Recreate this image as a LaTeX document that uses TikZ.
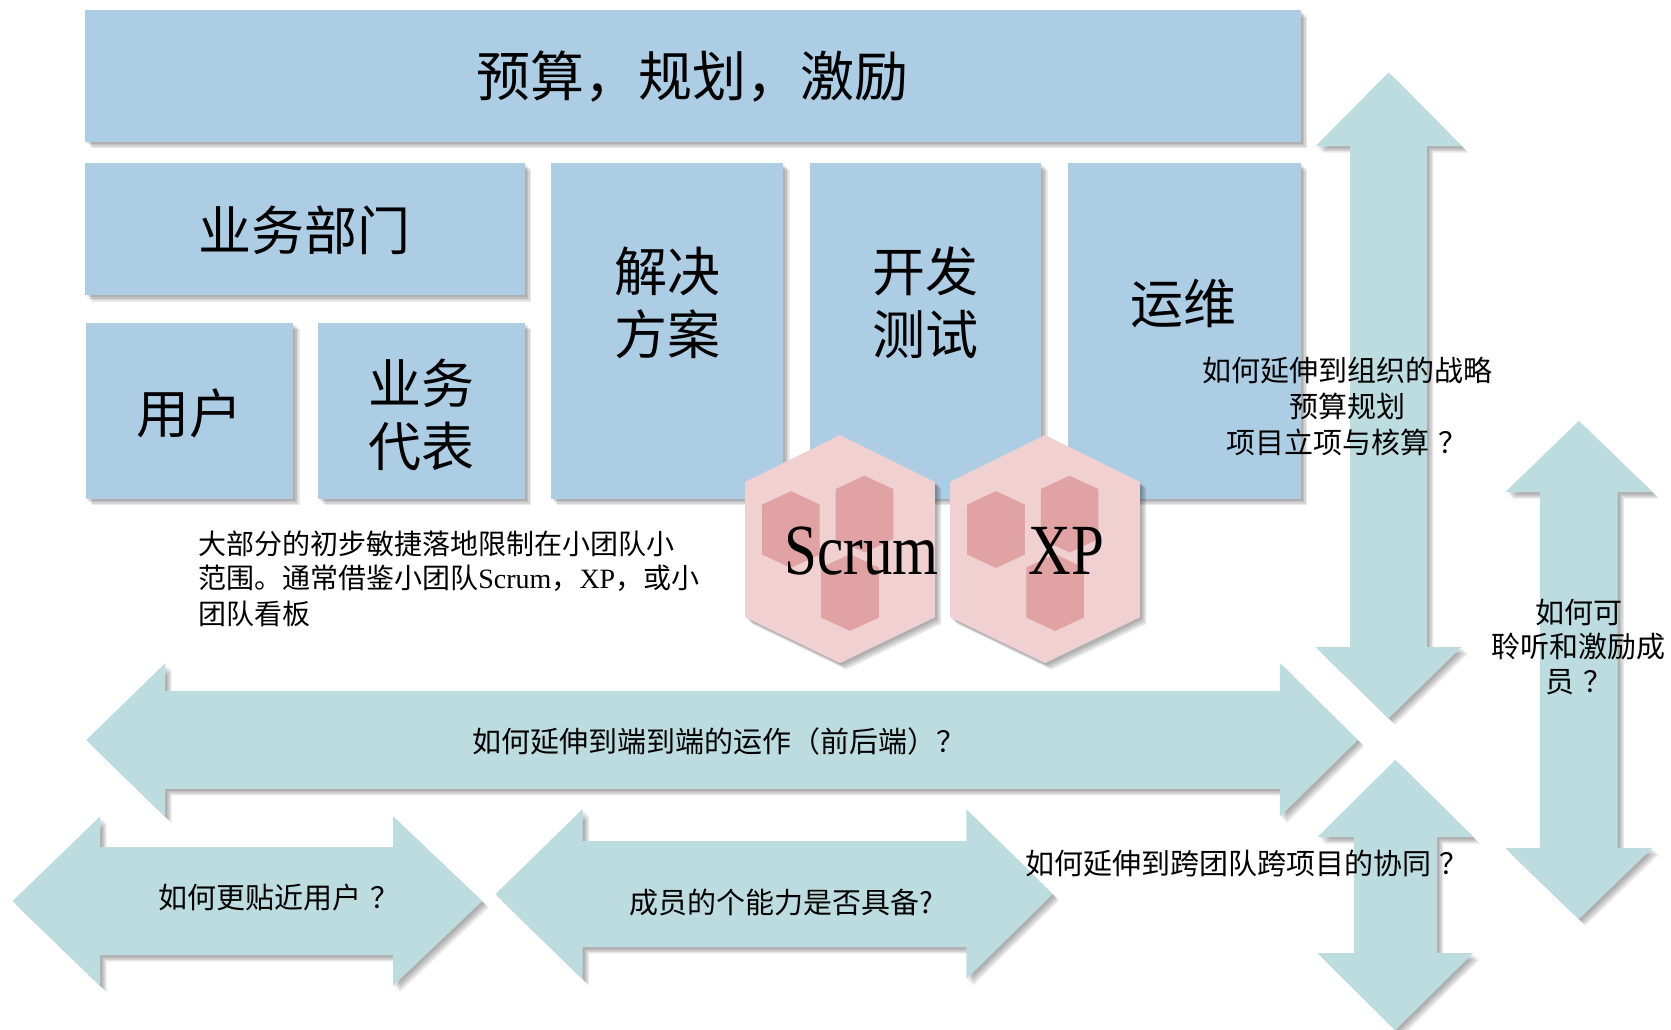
\documentclass[tikz,border=0pt]{standalone}
\usepackage{fontspec}
\usepackage{graphicx}
\setmainfont{Noto Sans CJK SC}
\newfontfamily\lat{Liberation Serif}
\newcommand\qmk{\kern0.3em？}
\definecolor{boxblue}{RGB}{173,205,229}
\definecolor{arrowteal}{RGB}{189,220,224}
\definecolor{hexpink}{RGB}{240,208,209}
\definecolor{hexdark}{RGB}{224,162,163}
\tikzset{
  shadowy/.style={
    preaction={fill=black,opacity=0.09,transform canvas={xshift=2pt,yshift=-2pt}},
    preaction={fill=black,opacity=0.09,transform canvas={xshift=3.5pt,yshift=-3.5pt}},
    preaction={fill=black,opacity=0.09,transform canvas={xshift=5pt,yshift=-5pt}},
    preaction={fill=black,opacity=0.09,transform canvas={xshift=6.5pt,yshift=-6.5pt}}},
  blockbox/.style={fill=boxblue,shadowy},
  arrowshape/.style={fill=arrowteal,shadowy},
  hexbig/.style={fill=hexpink,shadowy},
  hexsmall/.style={fill=hexdark},
  biglabel/.style={font=\fontsize{53}{63}\selectfont, align=center, inner sep=0pt},
  toplabel/.style={font=\fontsize{54}{64}\selectfont, inner sep=0pt},
  qlabel/.style={font=\fontsize{29}{36}\selectfont, align=center, inner sep=0pt},
  paralabel/.style={font=\fontsize{28}{35}\selectfont, anchor=west, inner sep=0pt},
  methodlabel/.style={font=\lat\fontsize{72}{80}\selectfont, anchor=base, inner sep=0pt},
  hexpic/.pic={
    \fill[hexbig] (0,-107) -- (89,-63) -- (89,64) -- (0,107) -- (-89,64) -- (-89,-63) -- cycle;
    \foreach \dx/\dy in {-46/-18.3, 23/-32.8, 9.4/40.8}
      \fill[hexsmall] (\dx,\dy) ++(0,-36) -- ++(27,12.5) -- ++(0,47) -- ++(-27,12.5) -- ++(-27,-12.5) -- ++(0,-47) -- cycle;
  }
}
\begin{document}
\begin{tikzpicture}[x=1.0657pt, y=-1.0657pt]
\useasboundingbox (0,0) rectangle (1568,966.5);

% blocks
\fill[blockbox] (80,9.5) rectangle (1220.5,133);
\node[toplabel] (budget) at (650,72) {预算，规划，激励};
\fill[blockbox] (80,153) rectangle (492.5,277);
\node[biglabel] (bizdept) at (286,216) {业务部门};
\fill[blockbox] (80.5,303) rectangle (275,468);
\node[biglabel] (user) at (177.5,388) {用户};
\fill[blockbox] (298.5,303) rectangle (492.5,468);
\node[biglabel] (bizrep) at (395.5,389) {业务\\代表};
\fill[blockbox] (517,153) rectangle (735,468);
\node[biglabel] (solution) at (626,284) {解决\\方案};
\fill[blockbox] (760,153) rectangle (977,468);
\node[biglabel] (devtest) at (868.5,284) {开发\\测试};
\fill[blockbox] (1002,153) rectangle (1220.5,468);
\node[biglabel] (ops) at (1111,285) {运维};

% hexagons
\pic (scrumhex) at (788.2,515.2) {hexpic};
\pic (xphex) at (980.6,515.2) {hexpic};
\node[methodlabel] (scrum) at (808.4,539.5) {\scalebox{0.82}[1]{Scrum}};
\node[methodlabel] (xp) at (1000.8,539.5) {\scalebox{0.82}[1]{XP}};

% arrows
\fill[arrowshape] (1303,68) -- (1371.5,137) -- (1339,137) -- (1339,607) -- (1371.5,607) -- (1303,674) -- (1234.5,607) -- (1267,607) -- (1267,137) -- (1234.5,137) -- cycle;
\fill[arrowshape] (1481.5,395) -- (1550.5,461.7) -- (1518,461.7) -- (1518,795.7) -- (1550.5,795.7) -- (1481.5,862.4) -- (1412.5,795.7) -- (1445,795.7) -- (1445,461.7) -- (1412.5,461.7) -- cycle;
\fill[arrowshape] (1309.3,713) -- (1382.3,785.4) -- (1348.3,785.4) -- (1348.3,894.3) -- (1382.3,894.3) -- (1309.3,966.5) -- (1236.3,894.3) -- (1270.3,894.3) -- (1270.3,785.4) -- (1236.3,785.4) -- cycle;
\fill[arrowshape] (81,694.3) -- (155,622.3) -- (155,648.3) -- (1201,648.3) -- (1201,622.3) -- (1274,694.3) -- (1201,766.3) -- (1201,740.3) -- (155,740.3) -- (155,766.3) -- cycle;
\fill[arrowshape] (11.8,845.5) -- (94,766) -- (94,794.8) -- (368.8,794.8) -- (368.8,766) -- (452.4,845.5) -- (368.8,925) -- (368.8,896.2) -- (94,896.2) -- (94,925) -- cycle;
\fill[arrowshape] (464.9,839) -- (546.6,759.3) -- (546.6,789.3) -- (906.7,789.3) -- (906.7,759.3) -- (987.7,839) -- (906.7,918.7) -- (906.7,888.7) -- (546.6,888.7) -- (546.6,918.7) -- cycle;

% texts
\node[paralabel] (p1) at (186,510) {大部分的初步敏捷落地限制在小团队小};
\node[paralabel] (p2) at (186,543) {范围。通常借鉴小团队{\lat Scrum}，{\lat XP}，或小};
\node[paralabel] (p3) at (186,576) {团队看板};
\node[qlabel] (q1) at (675,696) {如何延伸到端到端的运作（前后端）？};
\node[qlabel] (q2) at (262,842) {如何更贴近用户\qmk};
\node[qlabel] (q3) at (733,847) {成员的个能力是否具备?};
\node[qlabel] (q4) at (1170,810) {如何延伸到跨团队跨项目的协同\qmk};
\node[qlabel] (q5) at (1264,381.5) {如何延伸到组织的战略\\预算规划\\项目立项与核算\qmk};
\node[qlabel, font=\fontsize{29}{34.5}\selectfont] (q6) at (1481.5,607) {如何可\\聆听和激励成\\员\qmk};
\end{tikzpicture}
\end{document}
